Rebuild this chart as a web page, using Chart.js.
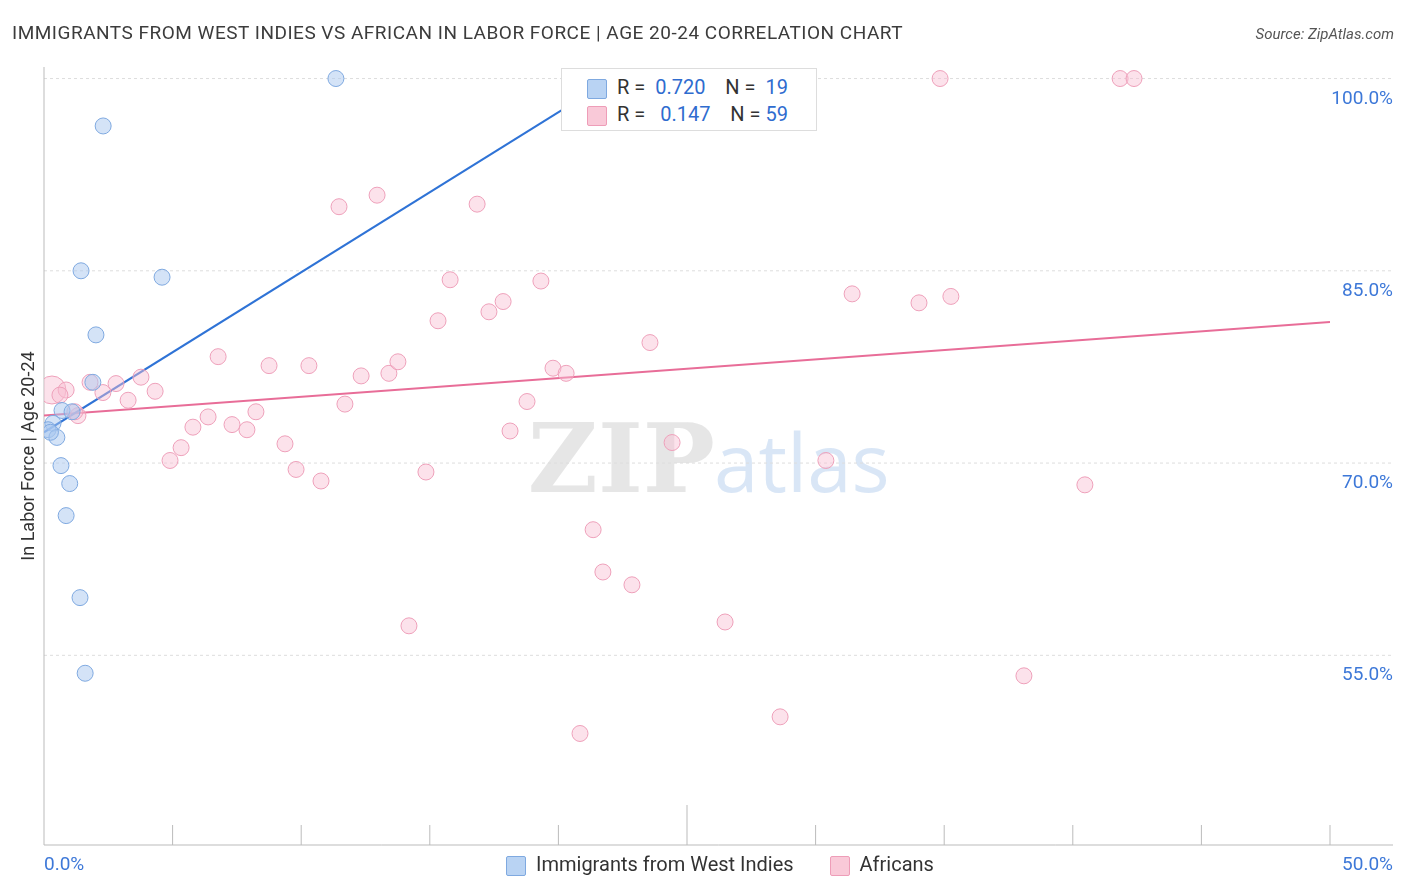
<!DOCTYPE html>
<html>
<head>
<meta charset="utf-8">
<script src="https://cdn.jsdelivr.net/npm/chart.js@4"></script>
<style>
  body { margin: 0; width: 1406px; height: 892px; background: #fff; font-family: Roboto, "Open Sans", sans-serif; position: relative; overflow: hidden; }
  #title { position: absolute; left: 12px; top: 21px; font-size: 19px; letter-spacing: 0.5px; color: #3c3c3c; }
  #source { position: absolute; right: 12px; top: 25px; font-size: 15px; color: #555; font-style: italic; }
  #wrap { position: absolute; left: 0; top: 0; width: 1406px; height: 892px; }
  .box { display: inline-block; width: 18px; height: 18px; border-radius: 2px; vertical-align: middle; margin-right: 10px; }
  #inset { position: absolute; left: 561px; top: 68px; width: 254px; height: 61px; border: 1px solid #ddd; background: #fff; font-size: 20px; color: #333; }
  #inset div { position: absolute; left: 25px; }
  #inset span.v { color: #2f6ccf; }
  #legend { position: absolute; top: 852px; left: 506px; font-size: 20px; color: #333; }
</style>
</head>
<body>
<div id="wrap"><canvas id="c" width="1406" height="892"></canvas></div>
<div id="title">IMMIGRANTS FROM WEST INDIES VS AFRICAN IN LABOR FORCE | AGE 20-24 CORRELATION CHART</div>
<div id="source">Source: ZipAtlas.com</div>
<div id="inset">
  <div style="top:6px"><span class="box" style="background:#b9d3f3;border:1px solid #7fa9e0"></span>R = &nbsp;<span class="v">0.720</span>&nbsp;&nbsp;&nbsp;&nbsp;N = &nbsp;<span class="v">19</span></div>
  <div style="top:33px"><span class="box" style="background:#f9c9d8;border:1px solid #ee9db8"></span>R = &nbsp;&nbsp;<span class="v">0.147</span>&nbsp;&nbsp;&nbsp;&nbsp;N = <span class="v">59</span></div>
</div>
<div id="legend">
  <span class="box" style="background:#b9d3f3;border:1px solid #7fa9e0"></span>Immigrants from West Indies
  <span style="display:inline-block;width:26px"></span>
  <span class="box" style="background:#f9c9d8;border:1px solid #ee9db8"></span>Africans
</div>
<script>
// West Indies (x = % immigrants, y = % in labor force)
const westIndiesX = [11.35, 2.3, 1.44, 4.59, 2.02, 1.9, 0.7, 1.09, 0.35, 0.16, 0.5, 0.25, 0.66, 1.0, 0.86, 1.4, 1.6, 22.4, 25.4];
const westIndiesY = [100, 96.3, 85, 84.5, 80, 76.3, 74.1, 74.0, 73.1, 72.6, 72.0, 72.4, 69.8, 68.4, 65.9, 59.5, 53.6, 100, 100];

const africansX = [0.31, 0.86, 1.32, 1.79, 2.29, 2.80, 3.27, 3.77, 4.32, 4.90, 5.33, 5.79, 6.38, 6.77, 7.31, 7.89, 8.24, 8.75, 9.37, 9.80,
  10.30, 10.77, 11.47, 11.70, 12.33, 12.95, 13.41, 13.76, 14.19, 14.85, 15.32, 15.79, 16.84, 17.30, 17.85, 18.12, 18.78, 19.32, 19.79, 20.30,
  20.84, 21.35, 21.73, 22.86, 23.56, 24.42, 26.48, 28.62, 30.40, 31.42, 34.02, 34.84, 35.26, 38.10, 40.47, 41.84, 42.38, 0.62, 1.2];
const africansY = [75.7, 75.7, 73.7, 76.3, 75.5, 76.2, 74.9, 76.7, 75.6, 70.2, 71.2, 72.8, 73.6, 78.3, 73.0, 72.6, 74.0, 77.6, 71.5, 69.5,
  77.6, 68.6, 90.0, 74.6, 76.8, 90.9, 77.0, 77.9, 57.3, 69.3, 81.1, 84.3, 90.2, 81.8, 82.6, 72.5, 74.8, 84.2, 77.4, 77.0,
  48.9, 64.8, 61.5, 60.5, 79.4, 71.6, 57.6, 50.2, 70.2, 83.2, 82.5, 100, 83.0, 53.4, 68.3, 100, 100, 75.3, 74.0];

const westTrend = [[0, 72.4], [22.1, 100]];
const africanTrend = [[0, 73.7], [50, 81.0]];
const yTicks = [55, 70, 85, 100];

function pts(xs, ys) { return xs.map(function(x, i) { return { x: x, y: ys[i] }; }); }

const decor = {
  id: 'decor',
  beforeDatasetsDraw(chart) {
    const ctx = chart.ctx, xs = chart.scales.x, ys = chart.scales.y, a = chart.chartArea;
    ctx.save();
    // watermark
    ctx.font = 'bold 96px "DejaVu Serif", serif';
    ctx.fillStyle = 'rgba(200,200,200,0.45)';
    ctx.textAlign = 'right';
    ctx.textBaseline = 'alphabetic';
    ctx.fillText('ZIP', 715, 492);
    ctx.font = '80px "Open Sans", sans-serif';
    ctx.fillStyle = 'rgba(170,200,235,0.45)';
    ctx.textAlign = 'left';
    ctx.fillText('atlas', 714, 492);
    // grid
    ctx.strokeStyle = '#ddd';
    ctx.lineWidth = 1;
    ctx.setLineDash([3, 3]);
    yTicks.forEach(function(t) {
      const y = ys.getPixelForValue(t);
      ctx.beginPath(); ctx.moveTo(a.left, y); ctx.lineTo(1393, y); ctx.stroke();
    });
    ctx.setLineDash([]);
    ctx.strokeStyle = '#bbb';
    ctx.beginPath(); ctx.moveTo(a.left, a.top); ctx.lineTo(a.left, a.bottom); ctx.lineTo(1393, a.bottom); ctx.stroke();
    for (let v = 5; v <= 50; v += 5) {
      const x = xs.getPixelForValue(v);
      ctx.beginPath(); ctx.moveTo(x, a.bottom); ctx.lineTo(x, a.bottom - (v === 25 ? 40 : 20)); ctx.stroke();
    }
    // labels
    ctx.fillStyle = '#3d78d8';
    ctx.font = '19px Roboto, sans-serif';
    ctx.textAlign = 'right';
    yTicks.forEach(function(t) {
      ctx.fillText(t.toFixed(1) + '%', 1393, ys.getPixelForValue(t) + 25);
    });
    ctx.textAlign = 'left';
    ctx.fillText('0.0%', 44, 870);
    ctx.textAlign = 'right';
    ctx.fillText('50.0%', 1393, 870);
    ctx.fillStyle = '#333';
    ctx.font = '18px Roboto, sans-serif';
    ctx.translate(34, 456);
    ctx.rotate(-Math.PI / 2);
    ctx.textAlign = 'center';
    ctx.fillText('In Labor Force | Age 20-24', 0, 0);
    ctx.restore();
  }
};

new Chart(document.getElementById('c'), {
  type: 'scatter',
  data: {
    datasets: [
      { data: pts(westIndiesX, westIndiesY), backgroundColor: 'rgba(170,200,240,0.5)', borderColor: '#7fa9e0', borderWidth: 1, pointRadius: 8 },
      { data: pts(africansX, africansY), backgroundColor: 'rgba(248,190,210,0.45)', borderColor: '#eea0ba', borderWidth: 1,
        pointRadius: africansX.map(function(x, i) { return i === 0 ? 14 : 8; }) },
      { type: 'line', data: westTrend.map(function(p) { return { x: p[0], y: p[1] }; }), borderColor: '#2f73d6', borderWidth: 2, pointRadius: 0 },
      { type: 'line', data: africanTrend.map(function(p) { return { x: p[0], y: p[1] }; }), borderColor: '#e86d98', borderWidth: 2, pointRadius: 0 }
    ]
  },
  options: {
    responsive: false,
    animation: false,
    layout: { padding: { left: 44, right: 76, top: 67, bottom: 47 } },
    plugins: { legend: { display: false }, tooltip: { enabled: false } },
    scales: {
      x: { type: 'linear', min: 0, max: 50, display: false },
      y: { type: 'linear', min: 40.2, max: 100.9, display: false }
    }
  },
  plugins: [decor]
});
</script>
</body>
</html>
